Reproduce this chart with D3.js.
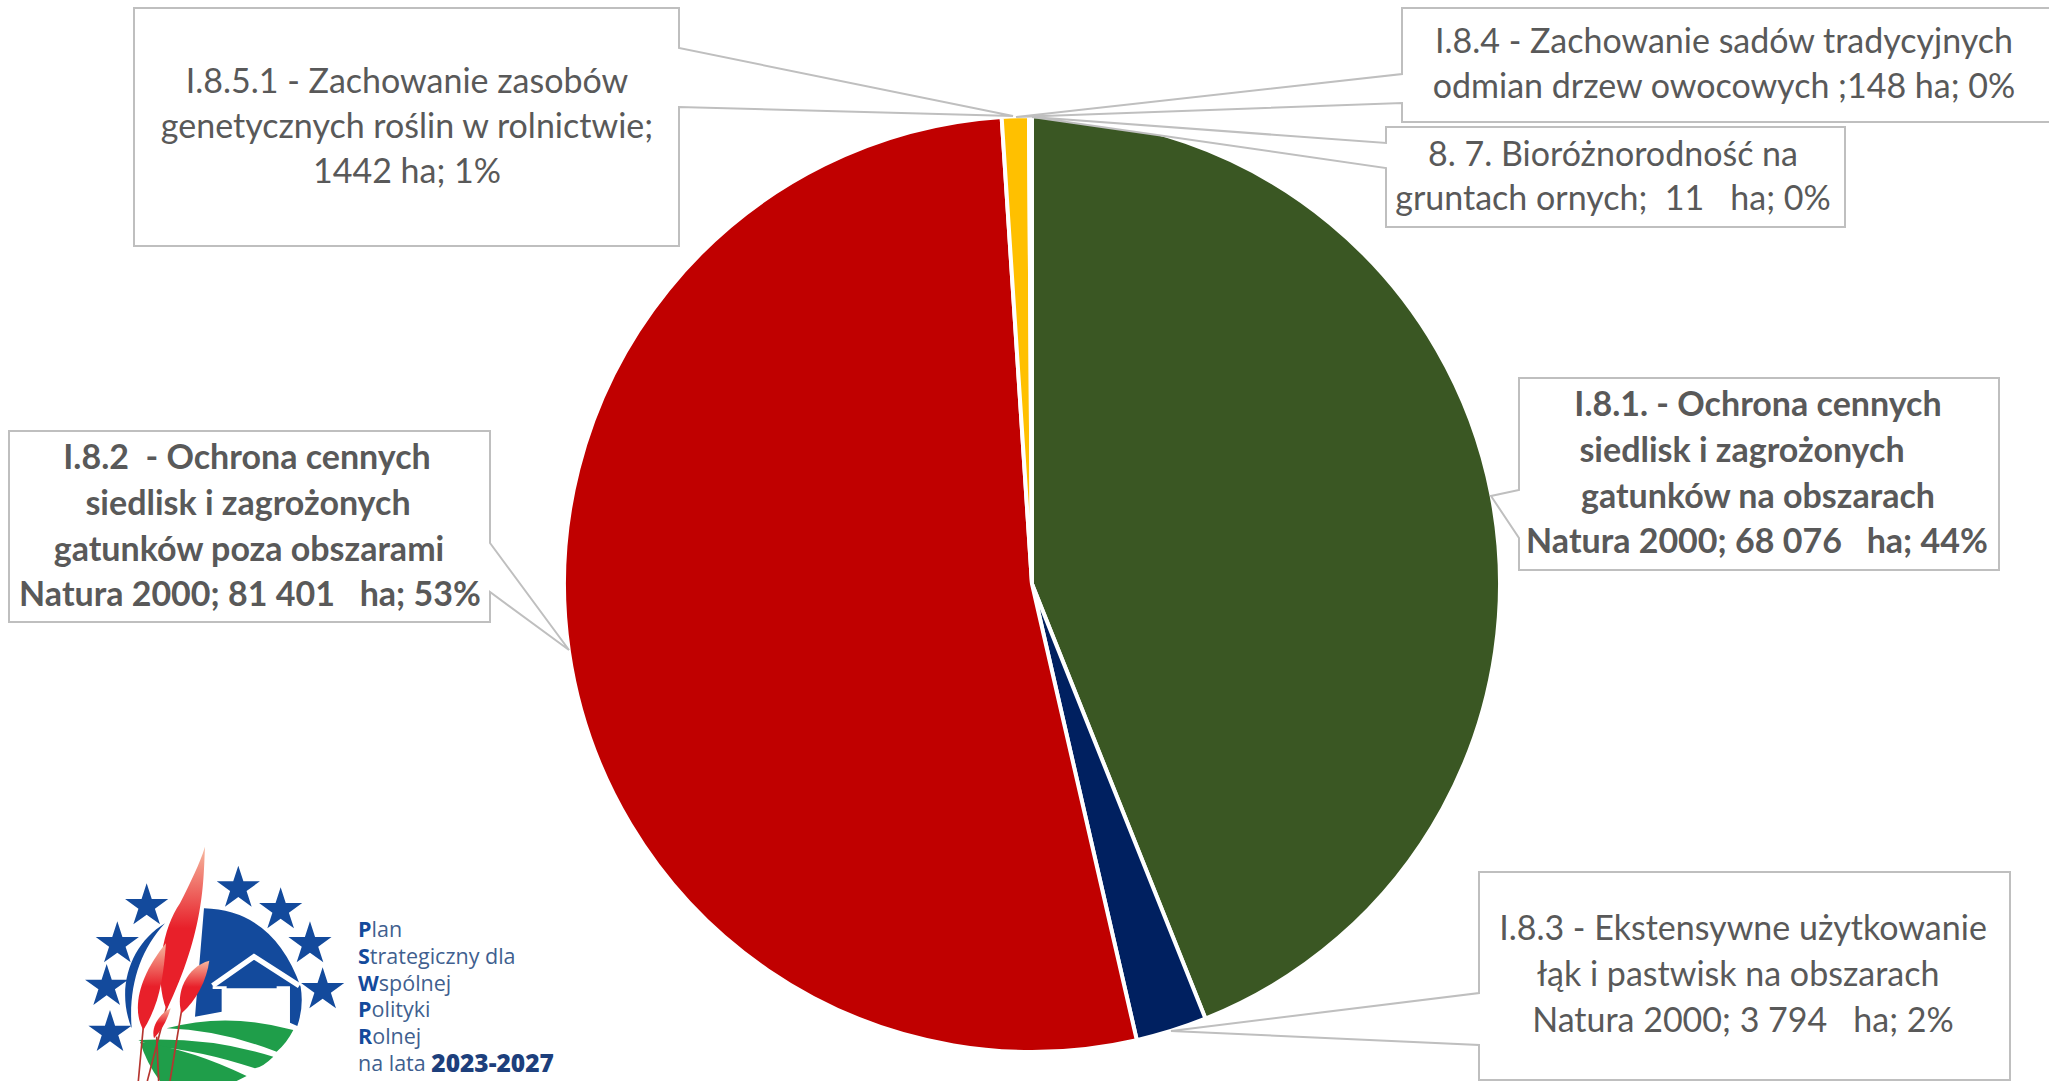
<!DOCTYPE html>
<html>
<head>
<meta charset="utf-8">
<script src="https://cdn.jsdelivr.net/npm/d3@7"></script>
<style>
  html, body { margin: 0; padding: 0; background: #fff; overflow: hidden; }
  text { white-space: pre; }
</style>
</head>
<body>
<svg id="chart" width="2049" height="1081"></svg>
<script>
// values, clockwise from 12 o'clock
const measures = ['I.8.1', 'I.8.3', 'I.8.2', 'I.8.5.1', 'I.8.4', '8.7'];
const areaHa = [68076, 3794, 81401, 1442, 148, 11];
const sliceColors = ['#3a5723', '#002060', '#c00000', '#ffc000', '#ffc000', '#3a5723'];

const labelLines = [
  ['I.8.1. - Ochrona cennych', 'siedlisk i zagrożonych', 'gatunków na obszarach', 'Natura 2000; 68 076   ha; 44%'],
  ['I.8.3 - Ekstensywne użytkowanie', 'łąk i pastwisk na obszarach', 'Natura 2000; 3 794   ha; 2%'],
  ['I.8.2  - Ochrona cennych', 'siedlisk i zagrożonych', 'gatunków poza obszarami', 'Natura 2000; 81 401   ha; 53%'],
  ['I.8.5.1 - Zachowanie zasobów', 'genetycznych roślin w rolnictwie;', '1442 ha; 1%'],
  ['I.8.4 - Zachowanie sadów tradycyjnych', 'odmian drzew owocowych ;148 ha; 0%'],
  ['8. 7. Bioróżnorodność na', 'gruntach ornych;  11   ha; 0%']
];

const logoLines = [
  ['P', 'lan'],
  ['S', 'trategiczny dla'],
  ['W', 'spólnej'],
  ['P', 'olityki'],
  ['R', 'olnej']
];

// callout geometry: box, the two points where the wedge leaves the box, wedge tip, text lines (cx, cy)
const calloutLayout = [
  { box: [1519, 378, 1999, 570], side: 'left', wedge: [490, 538], tip: [1491, 496], bold: true,
    xs: [1758, 1742, 1758, 1757], ys: [402, 448, 494, 539] },
  { box: [1479, 872, 2010, 1080], side: 'left', wedge: [993, 1045], tip: [1171, 1031], bold: false,
    xs: [1743, 1738, 1743], ys: [926, 972, 1018] },
  { box: [9, 431, 490, 622], side: 'right', wedge: [543, 592], tip: [569, 650], bold: true,
    xs: [247, 248, 249, 250], ys: [455, 501, 547, 592] },
  { box: [134, 8, 679, 246], side: 'right', wedge: [48, 107], tip: [1013, 116], bold: false,
    xs: [407, 407, 407], ys: [79, 124, 169] },
  { box: [1402, 8, 2060, 122], side: 'left', wedge: [74, 103], tip: [1016, 117], bold: false,
    xs: [1724, 1724], ys: [39, 84] },
  { box: [1386, 127, 1845, 227], side: 'left', wedge: [143, 168], tip: [1032, 117], bold: false,
    xs: [1613, 1613], ys: [152, 196] }
];

const FONT = 'Lato, sans-serif';
const TEXT_COLOR = '#595959';
const cx = 1032, cy = 584, radius = 468;

const svg = d3.select('#chart');

// pie
const pie = d3.pie().sort(null).value(d => d);
const arc = d3.arc().innerRadius(0).outerRadius(radius);

svg.append('g')
    .attr('transform', `translate(${cx},${cy})`)
    .selectAll('path')
    .data(pie(areaHa))
    .enter()
    .append('path')
    .attr('d', arc)
    .attr('fill', (d, i) => sliceColors[i])
    .attr('stroke', '#fff')
    .attr('stroke-width', 4)
    .append('title')
    .text((d, i) => measures[i]);

// callouts
function calloutPath(c) {
  const [x0, y0, x1, y1] = c.box;
  const edge = c.side === 'left' ? x0 : x1;
  const pts = c.side === 'left'
    ? [[x0, y0], [x1, y0], [x1, y1], [x0, y1], [edge, c.wedge[1]], c.tip, [edge, c.wedge[0]]]
    : [[x0, y0], [x1, y0], [edge, c.wedge[0]], c.tip, [edge, c.wedge[1]], [x1, y1], [x0, y1]];
  return d3.line()(pts) + 'Z';
}

const callouts = svg.append('g')
    .selectAll('g')
    .data(calloutLayout)
    .enter()
    .append('g');

callouts.append('path')
    .attr('d', calloutPath)
    .attr('fill', '#fff')
    .attr('stroke', '#bfbfbf')
    .attr('stroke-width', 2);

callouts.each(function(c, i) {
  d3.select(this).selectAll('text')
      .data(labelLines[i])
      .enter()
      .append('text')
      .attr('x', (d, j) => c.xs[j])
      .attr('y', (d, j) => c.ys[j])
      .attr('text-anchor', 'middle')
      .attr('dominant-baseline', 'central')
      .style('font-family', FONT)
      .style('font-size', '34px')
      .style('font-weight', c.bold ? 700 : 400)
      .style('fill', TEXT_COLOR)
      .text(d => d);
});

// logo, drawn at 3x and scaled down
const logo = svg.append('g').attr('transform', 'translate(60,820) scale(0.3333)');
const defs = svg.append('defs');
const grad = defs.append('linearGradient')
    .attr('id', 'ear')
    .attr('x1', 0).attr('y1', 1).attr('x2', 0).attr('y2', 0);
grad.append('stop').attr('offset', '0.5').attr('stop-color', '#e8202a');
grad.append('stop').attr('offset', '1').attr('stop-color', '#f6b9a0');

const LOGO_BLUE = '#134a9c';
const LOGO_GREEN = '#1f9e4a';

const starPositions = [[535, 205], [662, 270], [750, 372], [788, 510], [260, 258], [172, 372], [140, 500], [150, 638]];
logo.selectAll('.star')
    .data(starPositions)
    .enter()
    .append('path')
    .attr('class', 'star')
    .attr('transform', d => `translate(${d[0]},${d[1]})`)
    .attr('d', d3.symbol(d3.symbolStar, 5200))
    .attr('fill', LOGO_BLUE);

logo.append('path')
    .attr('d', 'M432,265 Q640,270 722,500 Q732,560 712,618 L690,608 L690,505 L485,505 L485,575 L405,590 Z')
    .attr('fill', LOGO_BLUE);
logo.append('path')
    .attr('d', 'M458,497 L582,410 L718,497')
    .attr('fill', 'none')
    .attr('stroke', '#fff')
    .attr('stroke-width', 16);
logo.append('path')
    .attr('d', 'M458,503 H500 M650,503 H690')
    .attr('stroke', '#fff')
    .attr('stroke-width', 8);
logo.append('path')
    .attr('d', 'M315,310 C215,370 165,500 215,625 C205,500 240,390 315,310 Z')
    .attr('fill', LOGO_BLUE);

const fieldBands = [
  'M320,625 Q500,575 700,630 Q680,670 650,695 Q480,630 320,625 Z',
  'M235,660 Q450,650 640,710 Q610,740 585,745 Q420,690 280,680 Z',
  'M240,665 Q400,690 560,768 L530,783 L300,783 Q260,730 240,665 Z'
];
logo.selectAll('.field')
    .data(fieldBands)
    .enter()
    .append('path')
    .attr('class', 'field')
    .attr('d', d => d)
    .attr('fill', LOGO_GREEN);

const wheatStems = ['M250,620 L235,783', 'M320,560 L262,783', 'M290,650 L296,783', 'M365,570 L330,783'];
logo.selectAll('.stem')
    .data(wheatStems)
    .enter()
    .append('path')
    .attr('class', 'stem')
    .attr('d', d => d)
    .attr('fill', 'none')
    .attr('stroke', '#b5352f')
    .attr('stroke-width', 5);

const wheatEars = [
  'M435,80 C430,180 435,330 320,570 C280,470 310,320 360,250 C390,190 420,130 435,80 Z',
  'M318,370 C310,470 300,550 250,630 C215,570 235,470 318,370 Z',
  'M448,422 C440,480 410,540 365,580 C345,520 380,440 448,422 Z',
  'M332,565 C322,600 305,630 282,655 C272,620 300,580 332,565 Z'
];
logo.selectAll('.ear')
    .data(wheatEars)
    .enter()
    .append('path')
    .attr('class', 'ear')
    .attr('d', d => d)
    .attr('fill', 'url(#ear)');

// logo caption
const caption = svg.append('g')
    .style('font-family', '"Open Sans", sans-serif')
    .style('font-size', '21.5px')
    .style('fill', '#3f5f8f');
const captionY = d3.scaleLinear().domain([0, 5]).range([928, 1062]);

logoLines.forEach((parts, i) => {
  const t = caption.append('text')
      .attr('x', 358)
      .attr('y', captionY(i))
      .attr('dominant-baseline', 'central');
  t.append('tspan').style('font-weight', 700).style('fill', '#134a9c').text(parts[0]);
  t.append('tspan').text(parts[1]);
});
const lastLine = caption.append('text')
    .attr('x', 358)
    .attr('y', captionY(5))
    .attr('dominant-baseline', 'central');
lastLine.append('tspan').text('na lata ');
lastLine.append('tspan')
    .style('font-weight', 800)
    .style('font-size', '24.5px')
    .style('fill', '#1d3f7c')
    .text('2023-2027');
</script>
</body>
</html>
